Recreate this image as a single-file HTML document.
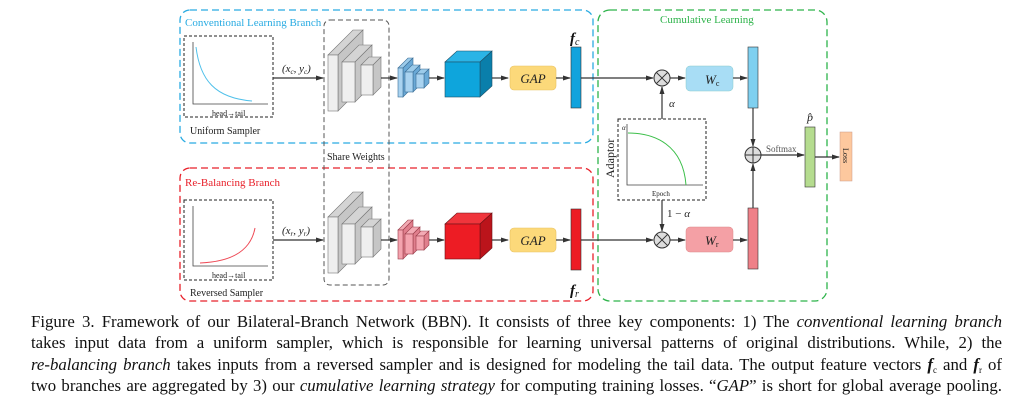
<!DOCTYPE html>
<html><head><meta charset="utf-8"><style>
html,body{margin:0;padding:0;background:#fff;width:1015px;height:410px;overflow:hidden;position:relative}
svg{position:absolute;left:0;top:0}
.cap{position:absolute;left:31px;width:971px;font:16.8px "Liberation Serif",serif;color:#111;text-align:justify;text-align-last:justify;white-space:nowrap;line-height:20px;height:20px}
.cap i{font-style:italic}
.cap sub{font-size:9px;vertical-align:baseline;position:relative;top:3px;line-height:0}
</style></head><body>
<svg width="1015" height="305" viewBox="0 0 1015 305" font-family="Liberation Serif, serif">
<defs>
<marker id="ar" markerWidth="8" markerHeight="6" refX="7" refY="3" orient="auto" markerUnits="userSpaceOnUse"><path d="M0,0.5 L8,3 L0,5.5 Z" fill="#333"/></marker>
</defs>
<rect x="180" y="10" width="413" height="133" rx="10" fill="none" stroke="#29abe2" stroke-width="1.3" stroke-dasharray="7,4"/>
<text x="185" y="26" font-size="11" fill="#29abe2">Conventional Learning Branch</text>
<rect x="180" y="168" width="413" height="133" rx="10" fill="none" stroke="#e8202a" stroke-width="1.3" stroke-dasharray="7,4"/>
<text x="185" y="186" font-size="11" fill="#e8202a">Re-Balancing Branch</text>
<rect x="598" y="10" width="229" height="291" rx="12" fill="none" stroke="#2db34a" stroke-width="1.3" stroke-dasharray="7,4"/>
<text x="660" y="23" font-size="11" fill="#2db34a">Cumulative Learning</text>
<rect x="184" y="36" width="89" height="81" fill="none" stroke="#222" stroke-dasharray="3,2"/>
<path d="M193,42 V104 H268" fill="none" stroke="#444" stroke-width="0.8"/>
<path d="M196,47 C200,80 215,98 252,101" fill="none" stroke="#4fc0ea" stroke-width="1"/>
<text x="212" y="116" font-size="8" fill="#222">head→tail</text>
<text x="190" y="134" font-size="10" fill="#222">Uniform Sampler</text>
<rect x="184" y="200" width="89" height="80" fill="none" stroke="#222" stroke-dasharray="3,2"/>
<path d="M193,206 V266 H268" fill="none" stroke="#444" stroke-width="0.8"/>
<path d="M200,263 C225,262 250,255 255,228" fill="none" stroke="#ee4a56" stroke-width="1"/>
<text x="212" y="278" font-size="8" fill="#222">head→tail</text>
<text x="190" y="296" font-size="10" fill="#222">Reversed Sampler</text>
<rect x="324" y="20" width="65" height="265" rx="6" fill="none" stroke="#555" stroke-dasharray="5,3"/>
<text x="327" y="160" font-size="10" fill="#222">Share Weights</text>
<line x1="273" y1="78" x2="323" y2="78" stroke="#333" stroke-width="1.2" marker-end="url(#ar)"/>
<text x="282" y="72" font-size="11" font-style="italic" fill="#222">(x<tspan font-size="7" dy="2">c</tspan><tspan dy="-2">, y</tspan><tspan font-size="7" dy="2">c</tspan><tspan dy="-2">)</tspan></text>
<line x1="273" y1="240" x2="323" y2="240" stroke="#333" stroke-width="1.2" marker-end="url(#ar)"/>
<text x="282" y="234" font-size="11" font-style="italic" fill="#222">(x<tspan font-size="7" dy="2">r</tspan><tspan dy="-2">, y</tspan><tspan font-size="7" dy="2">r</tspan><tspan dy="-2">)</tspan></text>
<g id="up">
<polygon points="328,55 338,55 363,30 353,30" fill="#d4d4d4" stroke="#777" stroke-width="0.6"/>
<polygon points="338,55 363,30 363,86 338,111" fill="#c6c6c6" stroke="#777" stroke-width="0.6"/>
<rect x="328" y="55" width="10" height="56" fill="#efefef" stroke="#777" stroke-width="0.6"/>
<polygon points="342,62 355,62 372,45 359,45" fill="#d4d4d4" stroke="#777" stroke-width="0.6"/>
<polygon points="355,62 372,45 372,85 355,102" fill="#c6c6c6" stroke="#777" stroke-width="0.6"/>
<rect x="342" y="62" width="13" height="40" fill="#efefef" stroke="#777" stroke-width="0.6"/>
<polygon points="361,65 373,65 381,57 369,57" fill="#d4d4d4" stroke="#777" stroke-width="0.6"/>
<polygon points="373,65 381,57 381,87 373,95" fill="#c6c6c6" stroke="#777" stroke-width="0.6"/>
<rect x="361" y="65" width="12" height="30" fill="#efefef" stroke="#777" stroke-width="0.6"/>
<line x1="381" y1="78" x2="397" y2="78" stroke="#333" stroke-width="1.2" marker-end="url(#ar)"/>
</g>
<use href="#up" y="162"/>
<g stroke="#3a6e96" stroke-width="0.6">
<polygon points="398,68 403,68 413,58 408,58" fill="#9ccbea"/><polygon points="403,68 413,58 413,87 403,97" fill="#6aa9d6"/><rect x="398" y="68" width="5" height="29" fill="#a9d3f0"/>
<polygon points="405,72 413,72 420,65 412,65" fill="#9ccbea"/><polygon points="413,72 420,65 420,85 413,92" fill="#6aa9d6"/><rect x="405" y="72" width="8" height="20" fill="#a9d3f0"/>
<polygon points="416,74 424,74 429,69 421,69" fill="#9ccbea"/><polygon points="424,74 429,69 429,83 424,88" fill="#6aa9d6"/><rect x="416" y="74" width="8" height="14" fill="#a9d3f0"/>
</g>
<g stroke="#9a3d4a" stroke-width="0.6">
<polygon points="398,230 403,230 413,220 408,220" fill="#f3aab4"/><polygon points="403,230 413,220 413,249 403,259" fill="#e07f8d"/><rect x="398" y="230" width="5" height="29" fill="#f4a3ae"/>
<polygon points="405,234 413,234 420,227 412,227" fill="#f3aab4"/><polygon points="413,234 420,227 420,247 413,254" fill="#e07f8d"/><rect x="405" y="234" width="8" height="20" fill="#f4a3ae"/>
<polygon points="416,236 424,236 429,231 421,231" fill="#f3aab4"/><polygon points="424,236 429,231 429,245 424,250" fill="#e07f8d"/><rect x="416" y="236" width="8" height="14" fill="#f4a3ae"/>
</g>
<line x1="429" y1="78" x2="444" y2="78" stroke="#333" stroke-width="1.2" marker-end="url(#ar)"/>
<line x1="429" y1="240" x2="444" y2="240" stroke="#333" stroke-width="1.2" marker-end="url(#ar)"/>
<g stroke="#1d4f66" stroke-width="0.6">
<polygon points="445,62 480,62 492,51 457,51" fill="#2ab4e6"/><polygon points="480,62 492,51 492,86 480,97" fill="#0a7fab"/><rect x="445" y="62" width="35" height="35" fill="#0ea5dc"/>
</g>
<g stroke="#6a1014" stroke-width="0.6">
<polygon points="445,224 480,224 492,213 457,213" fill="#f0353c"/><polygon points="480,224 492,213 492,248 480,259" fill="#bb141b"/><rect x="445" y="224" width="35" height="35" fill="#ed1c24"/>
</g>
<line x1="492" y1="78" x2="508" y2="78" stroke="#333" stroke-width="1.2" marker-end="url(#ar)"/>
<line x1="492" y1="240" x2="508" y2="240" stroke="#333" stroke-width="1.2" marker-end="url(#ar)"/>
<rect x="510" y="66" width="46" height="24" rx="4" fill="#fcd97a" stroke="#e8c160" stroke-width="0.6"/>
<text x="533" y="83" font-size="13" font-style="italic" text-anchor="middle" fill="#222">GAP</text>
<rect x="510" y="228" width="46" height="24" rx="4" fill="#fcd97a" stroke="#e8c160" stroke-width="0.6"/>
<text x="533" y="245" font-size="13" font-style="italic" text-anchor="middle" fill="#222">GAP</text>
<line x1="556" y1="78" x2="570" y2="78" stroke="#333" stroke-width="1.2" marker-end="url(#ar)"/>
<line x1="556" y1="240" x2="570" y2="240" stroke="#333" stroke-width="1.2" marker-end="url(#ar)"/>
<rect x="571" y="47" width="10" height="61" fill="#11a3dd" stroke="#333" stroke-width="0.6"/>
<rect x="571" y="209" width="10" height="61" fill="#ed1c24" stroke="#333" stroke-width="0.6"/>
<text x="570" y="43" font-size="15" font-weight="bold" font-style="italic" fill="#111">f<tspan font-size="10" font-weight="normal" dy="2">c</tspan></text>
<text x="570" y="295" font-size="15" font-weight="bold" font-style="italic" fill="#111">f<tspan font-size="10" font-weight="normal" dy="2">r</tspan></text>
<line x1="581" y1="78" x2="653" y2="78" stroke="#333" stroke-width="1.2" marker-end="url(#ar)"/>
<line x1="581" y1="240" x2="653" y2="240" stroke="#333" stroke-width="1.2" marker-end="url(#ar)"/>
<g stroke="#333" stroke-width="1">
<circle cx="662" cy="78" r="8" fill="#ddd"/><path d="M656.3,72.3 L667.7,83.7 M667.7,72.3 L656.3,83.7"/>
<circle cx="662" cy="240" r="8" fill="#ddd"/><path d="M656.3,234.3 L667.7,245.7 M667.7,234.3 L656.3,245.7"/>
</g>
<line x1="670" y1="78" x2="685" y2="78" stroke="#333" stroke-width="1.2" marker-end="url(#ar)"/>
<line x1="670" y1="240" x2="685" y2="240" stroke="#333" stroke-width="1.2" marker-end="url(#ar)"/>
<rect x="686" y="66" width="47" height="25" rx="4" fill="#a8ddf5" stroke="#8cc" stroke-width="0.5"/>
<text x="705" y="84" font-size="13" font-style="italic" fill="#222">W<tspan font-size="8" font-style="normal" dy="2">c</tspan></text>
<rect x="686" y="227" width="47" height="25" rx="4" fill="#f4a0a5" stroke="#d88" stroke-width="0.5"/>
<text x="705" y="245" font-size="13" font-style="italic" fill="#222">W<tspan font-size="8" font-style="normal" dy="2">r</tspan></text>
<line x1="733" y1="78" x2="747" y2="78" stroke="#333" stroke-width="1.2" marker-end="url(#ar)"/>
<line x1="733" y1="240" x2="747" y2="240" stroke="#333" stroke-width="1.2" marker-end="url(#ar)"/>
<rect x="748" y="47" width="10" height="61" fill="#7fd0f0" stroke="#333" stroke-width="0.6"/>
<rect x="748" y="208" width="10" height="61" fill="#ef8088" stroke="#333" stroke-width="0.6"/>
<line x1="753" y1="108" x2="753" y2="146" stroke="#333" stroke-width="1.2" marker-end="url(#ar)"/>
<line x1="753" y1="208" x2="753" y2="164" stroke="#333" stroke-width="1.2" marker-end="url(#ar)"/>
<circle cx="753" cy="155" r="8" fill="#ddd" stroke="#333"/><path d="M745,155 H761 M753,147 V163" stroke="#333"/>
<line x1="761" y1="155" x2="804" y2="155" stroke="#333" stroke-width="1.2" marker-end="url(#ar)"/>
<text x="766" y="152" font-size="9" fill="#555">Softmax</text>
<rect x="805" y="127" width="10" height="60" fill="#b5dc8f" stroke="#333" stroke-width="0.6"/>
<text x="807" y="121" font-size="12" font-style="italic" fill="#222">p̂</text>
<line x1="815" y1="157" x2="839" y2="157" stroke="#333" stroke-width="1.2" marker-end="url(#ar)"/>
<rect x="840" y="132" width="12" height="49" fill="#fdc89e" stroke="#c98" stroke-width="0.5"/>
<text transform="translate(843,148) rotate(90)" font-size="8" fill="#222">Loss</text>
<rect x="618" y="119" width="88" height="81" fill="none" stroke="#222" stroke-dasharray="3,2"/>
<path d="M627,124 V185 H703" fill="none" stroke="#444" stroke-width="0.8"/>
<path d="M628,133 C655,133 683,145 686,185" fill="none" stroke="#3cbf4a" stroke-width="1"/>
<text x="622" y="130" font-size="7" font-style="italic" fill="#222">α</text>
<text x="652" y="196" font-size="7" fill="#222">Epoch</text>
<text transform="translate(614,178) rotate(-90)" font-size="12" fill="#222">Adaptor</text>
<line x1="662" y1="119" x2="662" y2="87" stroke="#333" stroke-width="1.2" marker-end="url(#ar)"/>
<text x="669" y="107" font-size="11" font-style="italic" fill="#222">α</text>
<line x1="662" y1="200" x2="662" y2="231" stroke="#333" stroke-width="1.2" marker-end="url(#ar)"/>
<text x="667" y="217" font-size="11" fill="#222">1 − <tspan font-style="italic">α</tspan></text>
</svg>
<div class="cap" style="top:312px">Figure 3. Framework of our Bilateral-Branch Network (BBN). It consists of three key components: 1) The <i>conventional learning branch</i></div>
<div class="cap" style="top:333px">takes input data from a uniform sampler, which is responsible for learning universal patterns of original distributions. While, 2) the</div>
<div class="cap" style="top:355px"><i>re-balancing branch</i> takes inputs from a reversed sampler and is designed for modeling the tail data. The output feature vectors <b><i>f</i></b><sub>c</sub> and <b><i>f</i></b><sub>r</sub> of</div>
<div class="cap" style="top:376px">two branches are aggregated by 3) our <i>cumulative learning strategy</i> for computing training losses. “<i>GAP</i>” is short for global average pooling.</div>
</body></html>
